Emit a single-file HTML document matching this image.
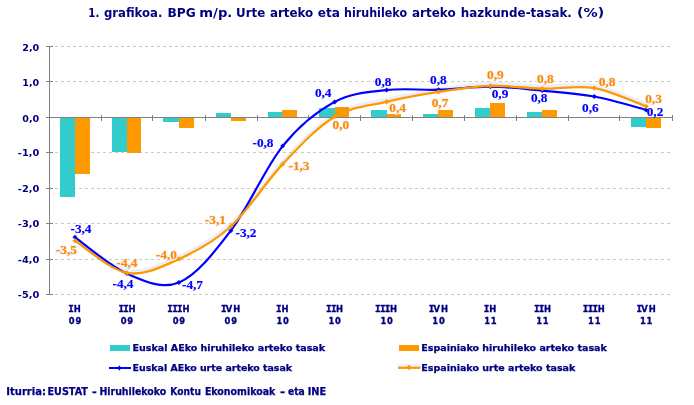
<!DOCTYPE html>
<html><head><meta charset="utf-8"><title>1. grafikoa</title>
<style>html,body{margin:0;padding:0;background:#fff}body{width:694px;height:405px;overflow:hidden}</style>
</head><body>
<svg width="694" height="405" viewBox="0 0 694 405" style="display:block">
<rect width="694" height="405" fill="#fff"/>
<line x1="55" x2="672" y1="46.5" y2="46.5" stroke="#C9C9BE" stroke-width="1" stroke-dasharray="3 3" shape-rendering="crispEdges"/>
<line x1="55" x2="672" y1="81.5" y2="81.5" stroke="#C9C9BE" stroke-width="1" stroke-dasharray="3 3" shape-rendering="crispEdges"/>
<line x1="55" x2="672" y1="152.5" y2="152.5" stroke="#C9C9BE" stroke-width="1" stroke-dasharray="3 3" shape-rendering="crispEdges"/>
<line x1="55" x2="672" y1="188.5" y2="188.5" stroke="#C9C9BE" stroke-width="1" stroke-dasharray="3 3" shape-rendering="crispEdges"/>
<line x1="55" x2="672" y1="223.5" y2="223.5" stroke="#C9C9BE" stroke-width="1" stroke-dasharray="3 3" shape-rendering="crispEdges"/>
<line x1="55" x2="672" y1="259.5" y2="259.5" stroke="#C9C9BE" stroke-width="1" stroke-dasharray="3 3" shape-rendering="crispEdges"/>
<line x1="55" x2="672" y1="294.5" y2="294.5" stroke="#C9C9BE" stroke-width="1" stroke-dasharray="3 3" shape-rendering="crispEdges"/>
<rect x="60" y="118" width="15" height="79" fill="#33CCCC" shape-rendering="crispEdges"/>
<rect x="75" y="118" width="15" height="56" fill="#FF9900" shape-rendering="crispEdges"/>
<rect x="112" y="118" width="15" height="34" fill="#33CCCC" shape-rendering="crispEdges"/>
<rect x="127" y="118" width="14" height="35" fill="#FF9900" shape-rendering="crispEdges"/>
<rect x="163" y="118" width="16" height="4" fill="#33CCCC" shape-rendering="crispEdges"/>
<rect x="179" y="118" width="15" height="10" fill="#FF9900" shape-rendering="crispEdges"/>
<rect x="216" y="113" width="15" height="4" fill="#33CCCC" shape-rendering="crispEdges"/>
<rect x="231" y="118" width="15" height="3" fill="#FF9900" shape-rendering="crispEdges"/>
<rect x="268" y="112" width="14" height="5" fill="#33CCCC" shape-rendering="crispEdges"/>
<rect x="282" y="110" width="15" height="7" fill="#FF9900" shape-rendering="crispEdges"/>
<rect x="319" y="108" width="16" height="9" fill="#33CCCC" shape-rendering="crispEdges"/>
<rect x="335" y="107" width="14" height="10" fill="#FF9900" shape-rendering="crispEdges"/>
<rect x="371" y="110" width="16" height="7" fill="#33CCCC" shape-rendering="crispEdges"/>
<rect x="387" y="114" width="14" height="3" fill="#FF9900" shape-rendering="crispEdges"/>
<rect x="423" y="114" width="15" height="3" fill="#33CCCC" shape-rendering="crispEdges"/>
<rect x="438" y="110" width="15" height="7" fill="#FF9900" shape-rendering="crispEdges"/>
<rect x="475" y="108" width="15" height="9" fill="#33CCCC" shape-rendering="crispEdges"/>
<rect x="490" y="103" width="15" height="14" fill="#FF9900" shape-rendering="crispEdges"/>
<rect x="527" y="112" width="15" height="5" fill="#33CCCC" shape-rendering="crispEdges"/>
<rect x="542" y="110" width="15" height="7" fill="#FF9900" shape-rendering="crispEdges"/>
<rect x="631" y="118" width="15" height="9" fill="#33CCCC" shape-rendering="crispEdges"/>
<rect x="646" y="118" width="15" height="10" fill="#FF9900" shape-rendering="crispEdges"/>
<rect x="70" y="121" width="1" height="1" fill="#8E8A8A" opacity="0.8"/>
<rect x="70" y="129" width="1" height="1" fill="#8E8A8A" opacity="0.8"/>
<rect x="70" y="137" width="1" height="1" fill="#8E8A8A" opacity="0.8"/>
<rect x="70" y="145" width="1" height="1" fill="#8E8A8A" opacity="0.8"/>
<rect x="70" y="153" width="1" height="1" fill="#8E8A8A" opacity="0.8"/>
<rect x="70" y="161" width="1" height="1" fill="#8E8A8A" opacity="0.8"/>
<rect x="70" y="169" width="1" height="1" fill="#8E8A8A" opacity="0.8"/>
<rect x="70" y="177" width="1" height="1" fill="#8E8A8A" opacity="0.8"/>
<rect x="122" y="124" width="1" height="1" fill="#8E8A8A" opacity="0.8"/>
<rect x="122" y="132" width="1" height="1" fill="#8E8A8A" opacity="0.8"/>
<g stroke="#808080" stroke-width="1" shape-rendering="crispEdges">
<line x1="49.5" x2="49.5" y1="46" y2="295"/>
<line x1="46" x2="53" y1="46.5" y2="46.5"/>
<line x1="46" x2="53" y1="81.5" y2="81.5"/>
<line x1="46" x2="53" y1="117.5" y2="117.5"/>
<line x1="46" x2="53" y1="152.5" y2="152.5"/>
<line x1="46" x2="53" y1="188.5" y2="188.5"/>
<line x1="46" x2="53" y1="223.5" y2="223.5"/>
<line x1="46" x2="53" y1="259.5" y2="259.5"/>
<line x1="46" x2="53" y1="294.5" y2="294.5"/>
<line x1="49" x2="673" y1="117.5" y2="117.5"/>
<line x1="49.5" x2="49.5" y1="115" y2="121"/>
<line x1="101.5" x2="101.5" y1="115" y2="121"/>
<line x1="152.5" x2="152.5" y1="115" y2="121"/>
<line x1="205.5" x2="205.5" y1="115" y2="121"/>
<line x1="257.5" x2="257.5" y1="115" y2="121"/>
<line x1="308.5" x2="308.5" y1="115" y2="121"/>
<line x1="360.5" x2="360.5" y1="115" y2="121"/>
<line x1="412.5" x2="412.5" y1="115" y2="121"/>
<line x1="464.5" x2="464.5" y1="115" y2="121"/>
<line x1="516.5" x2="516.5" y1="115" y2="121"/>
<line x1="568.5" x2="568.5" y1="115" y2="121"/>
<line x1="619.5" x2="619.5" y1="115" y2="121"/>
<line x1="672.5" x2="672.5" y1="115" y2="121"/>
</g>
<path d="M75.0,240.7 C83.7,246.0 109.6,269.8 126.9,272.9 C144.2,276.0 161.6,266.8 178.9,259.1 C196.2,251.3 213.5,242.3 230.8,226.5 C248.1,210.7 265.4,182.4 282.7,164.1 C300.0,145.8 317.3,127.0 334.6,116.7 C352.0,106.3 369.3,105.9 386.6,101.8 C403.9,97.6 421.2,94.5 438.5,91.9 C455.8,89.2 473.1,86.4 490.4,85.8 C507.8,85.3 525.1,88.3 542.4,88.7 C559.7,89.0 577.0,85.2 594.3,88.1 C611.6,91.1 637.6,103.3 646.2,106.4" fill="none" stroke="#ECEEFA" stroke-width="4" stroke-linejoin="round" transform="translate(0,-2)" style="mix-blend-mode:darken"/>
<path d="M75.0,237.3 C83.7,243.3 109.6,266.1 126.9,273.6 C144.2,281.1 161.6,289.6 178.9,282.5 C196.2,275.3 213.5,253.5 230.8,230.7 C248.1,208.0 265.4,167.5 282.7,146.1 C300.0,124.6 317.3,111.3 334.6,101.9 C352.0,92.6 369.3,92.1 386.6,90.1 C403.9,88.0 421.2,90.3 438.5,89.7 C455.8,89.2 473.1,86.6 490.4,86.7 C507.8,86.9 525.1,89.0 542.4,90.6 C559.7,92.2 577.0,93.2 594.3,96.5 C611.6,99.7 637.6,107.7 646.2,109.9" fill="none" stroke="#0000FF" stroke-width="2.2" stroke-linejoin="round"/>
<path d="M72.5,237.3 L75.0,234.8 L77.5,237.3 L75.0,239.8Z" fill="#0000FF"/>
<path d="M124.4,273.6 L126.9,271.1 L129.4,273.6 L126.9,276.1Z" fill="#0000FF"/>
<path d="M176.4,282.5 L178.9,280.0 L181.4,282.5 L178.9,285.0Z" fill="#0000FF"/>
<path d="M228.3,230.7 L230.8,228.2 L233.3,230.7 L230.8,233.2Z" fill="#0000FF"/>
<path d="M280.2,146.1 L282.7,143.6 L285.2,146.1 L282.7,148.6Z" fill="#0000FF"/>
<path d="M332.1,101.9 L334.6,99.4 L337.1,101.9 L334.6,104.4Z" fill="#0000FF"/>
<path d="M384.1,90.1 L386.6,87.6 L389.1,90.1 L386.6,92.6Z" fill="#0000FF"/>
<path d="M436.0,89.7 L438.5,87.2 L441.0,89.7 L438.5,92.2Z" fill="#0000FF"/>
<path d="M487.9,86.7 L490.4,84.2 L492.9,86.7 L490.4,89.2Z" fill="#0000FF"/>
<path d="M539.9,90.6 L542.4,88.1 L544.9,90.6 L542.4,93.1Z" fill="#0000FF"/>
<path d="M591.8,96.5 L594.3,94.0 L596.8,96.5 L594.3,99.0Z" fill="#0000FF"/>
<path d="M643.7,109.9 L646.2,107.4 L648.7,109.9 L646.2,112.4Z" fill="#0000FF"/>
<path d="M75.0,240.7 C83.7,246.0 109.6,269.8 126.9,272.9 C144.2,276.0 161.6,266.8 178.9,259.1 C196.2,251.3 213.5,242.3 230.8,226.5 C248.1,210.7 265.4,182.4 282.7,164.1 C300.0,145.8 317.3,127.0 334.6,116.7 C352.0,106.3 369.3,105.9 386.6,101.8 C403.9,97.6 421.2,94.5 438.5,91.9 C455.8,89.2 473.1,86.4 490.4,85.8 C507.8,85.3 525.1,88.3 542.4,88.7 C559.7,89.0 577.0,85.2 594.3,88.1 C611.6,91.1 637.6,103.3 646.2,106.4" fill="none" stroke="#FF9900" stroke-width="2.3" stroke-linejoin="round"/>
<path d="M72.4,240.7 L75.0,238.1 L77.6,240.7 L75.0,243.3Z" fill="#FF9900"/>
<path d="M124.3,272.9 L126.9,270.3 L129.5,272.9 L126.9,275.5Z" fill="#FF9900"/>
<path d="M176.3,259.1 L178.9,256.5 L181.5,259.1 L178.9,261.7Z" fill="#FF9900"/>
<path d="M228.2,226.5 L230.8,223.9 L233.4,226.5 L230.8,229.1Z" fill="#FF9900"/>
<path d="M280.1,164.1 L282.7,161.5 L285.3,164.1 L282.7,166.7Z" fill="#FF9900"/>
<path d="M332.0,116.7 L334.6,114.1 L337.2,116.7 L334.6,119.3Z" fill="#FF9900"/>
<path d="M384.0,101.8 L386.6,99.2 L389.2,101.8 L386.6,104.4Z" fill="#FF9900"/>
<path d="M435.9,91.9 L438.5,89.3 L441.1,91.9 L438.5,94.5Z" fill="#FF9900"/>
<path d="M487.8,85.8 L490.4,83.2 L493.0,85.8 L490.4,88.4Z" fill="#FF9900"/>
<path d="M539.8,88.7 L542.4,86.1 L545.0,88.7 L542.4,91.3Z" fill="#FF9900"/>
<path d="M591.7,88.1 L594.3,85.5 L596.9,88.1 L594.3,90.7Z" fill="#FF9900"/>
<path d="M643.6,106.4 L646.2,103.8 L648.8,106.4 L646.2,109.0Z" fill="#FF9900"/>
<g font-family='"Liberation Serif",serif' font-weight="bold" font-size="13.3" text-anchor="middle">
<text x="66.4" y="253.9" fill="none" stroke="#F4F4FC" stroke-opacity="0.9" stroke-width="2.4" stroke-linejoin="round">-3,5</text>
<text x="127" y="267.1" fill="none" stroke="#F4F4FC" stroke-opacity="0.9" stroke-width="2.4" stroke-linejoin="round">-4,4</text>
<text x="166.3" y="259" fill="none" stroke="#F4F4FC" stroke-opacity="0.9" stroke-width="2.4" stroke-linejoin="round">-4,0</text>
<text x="215.4" y="224.4" fill="none" stroke="#F4F4FC" stroke-opacity="0.9" stroke-width="2.4" stroke-linejoin="round">-3,1</text>
<text x="299" y="170.1" fill="none" stroke="#F4F4FC" stroke-opacity="0.9" stroke-width="2.4" stroke-linejoin="round">-1,3</text>
<text x="340.8" y="128.9" fill="none" stroke="#F4F4FC" stroke-opacity="0.9" stroke-width="2.4" stroke-linejoin="round">0,0</text>
<text x="397.6" y="111.5" fill="none" stroke="#F4F4FC" stroke-opacity="0.9" stroke-width="2.4" stroke-linejoin="round">0,4</text>
<text x="440" y="106.6" fill="none" stroke="#F4F4FC" stroke-opacity="0.9" stroke-width="2.4" stroke-linejoin="round">0,7</text>
<text x="495.3" y="79.4" fill="none" stroke="#F4F4FC" stroke-opacity="0.9" stroke-width="2.4" stroke-linejoin="round">0,9</text>
<text x="545.3" y="83.3" fill="none" stroke="#F4F4FC" stroke-opacity="0.9" stroke-width="2.4" stroke-linejoin="round">0,8</text>
<text x="607" y="86.4" fill="none" stroke="#F4F4FC" stroke-opacity="0.9" stroke-width="2.4" stroke-linejoin="round">0,8</text>
<text x="653.5" y="103" fill="none" stroke="#F4F4FC" stroke-opacity="0.9" stroke-width="2.4" stroke-linejoin="round">0,3</text>
<text x="81" y="232.8" fill="#0000FF" stroke="#0000FF" stroke-width="0.15">-3,4</text>
<text x="123" y="287.5" fill="#0000FF" stroke="#0000FF" stroke-width="0.15">-4,4</text>
<text x="192.5" y="288.5" fill="#0000FF" stroke="#0000FF" stroke-width="0.15">-4,7</text>
<text x="246" y="237" fill="#0000FF" stroke="#0000FF" stroke-width="0.15">-3,2</text>
<text x="263" y="147.4" fill="#0000FF" stroke="#0000FF" stroke-width="0.15">-0,8</text>
<text x="323.2" y="96.8" fill="#0000FF" stroke="#0000FF" stroke-width="0.15">0,4</text>
<text x="383.1" y="86" fill="#0000FF" stroke="#0000FF" stroke-width="0.15">0,8</text>
<text x="438.3" y="83.6" fill="#0000FF" stroke="#0000FF" stroke-width="0.15">0,8</text>
<text x="500" y="97.9" fill="#0000FF" stroke="#0000FF" stroke-width="0.15">0,9</text>
<text x="539.2" y="101.9" fill="#0000FF" stroke="#0000FF" stroke-width="0.15">0,8</text>
<text x="590.3" y="111.8" fill="#0000FF" stroke="#0000FF" stroke-width="0.15">0,6</text>
<text x="655" y="116.2" fill="#0000FF" stroke="#0000FF" stroke-width="0.15">0,2</text>
<text x="66.4" y="253.9" fill="#FF8A00" stroke="#FF8A00" stroke-width="0.15">-3,5</text>
<text x="127" y="267.1" fill="#FF8A00" stroke="#FF8A00" stroke-width="0.15">-4,4</text>
<text x="166.3" y="259" fill="#FF8A00" stroke="#FF8A00" stroke-width="0.15">-4,0</text>
<text x="215.4" y="224.4" fill="#FF8A00" stroke="#FF8A00" stroke-width="0.15">-3,1</text>
<text x="299" y="170.1" fill="#FF8A00" stroke="#FF8A00" stroke-width="0.15">-1,3</text>
<text x="340.8" y="128.9" fill="#FF8A00" stroke="#FF8A00" stroke-width="0.15">0,0</text>
<text x="397.6" y="111.5" fill="#FF8A00" stroke="#FF8A00" stroke-width="0.15">0,4</text>
<text x="440" y="106.6" fill="#FF8A00" stroke="#FF8A00" stroke-width="0.15">0,7</text>
<text x="495.3" y="79.4" fill="#FF8A00" stroke="#FF8A00" stroke-width="0.15">0,9</text>
<text x="545.3" y="83.3" fill="#FF8A00" stroke="#FF8A00" stroke-width="0.15">0,8</text>
<text x="607" y="86.4" fill="#FF8A00" stroke="#FF8A00" stroke-width="0.15">0,8</text>
<text x="653.5" y="103" fill="#FF8A00" stroke="#FF8A00" stroke-width="0.15">0,3</text>
</g>
<g font-family='"DejaVu Sans Condensed","DejaVu Sans","Liberation Sans",sans-serif' font-weight="bold" fill="#000080">
<text y="16.7" font-size="12" font-family='"DejaVu Sans","Liberation Sans",sans-serif'>
<tspan x="88.3" textLength="11.1" lengthAdjust="spacingAndGlyphs">1.</tspan>
<tspan x="103.9" textLength="58.5" lengthAdjust="spacingAndGlyphs">grafikoa.</tspan>
<tspan x="167.4" textLength="28.3" lengthAdjust="spacingAndGlyphs">BPG</tspan>
<tspan x="199.3" textLength="33.1" lengthAdjust="spacingAndGlyphs">m/p.</tspan>
<tspan x="236.1" textLength="29.2" lengthAdjust="spacingAndGlyphs">Urte</tspan>
<tspan x="269.9" textLength="43.4" lengthAdjust="spacingAndGlyphs">arteko</tspan>
<tspan x="317.8" textLength="22.2" lengthAdjust="spacingAndGlyphs">eta</tspan>
<tspan x="344.0" textLength="63.1" lengthAdjust="spacingAndGlyphs">hiruhileko</tspan>
<tspan x="412.0" textLength="43.6" lengthAdjust="spacingAndGlyphs">arteko</tspan>
<tspan x="460.8" textLength="111.1" lengthAdjust="spacingAndGlyphs">hazkunde-tasak.</tspan>
<tspan x="577.1" textLength="27.1" lengthAdjust="spacingAndGlyphs">(%)</tspan>
</text>
<text x="22.299999999999997" y="50.8" font-size="8.9" font-family='"DejaVu Sans","Liberation Sans",sans-serif' textLength="17" lengthAdjust="spacingAndGlyphs">2,0</text>
<text x="22.299999999999997" y="85.6" font-size="8.9" font-family='"DejaVu Sans","Liberation Sans",sans-serif' textLength="17" lengthAdjust="spacingAndGlyphs">1,0</text>
<text x="22.299999999999997" y="121.7" font-size="8.9" font-family='"DejaVu Sans","Liberation Sans",sans-serif' textLength="17" lengthAdjust="spacingAndGlyphs">0,0</text>
<text x="17.799999999999997" y="156.4" font-size="8.9" font-family='"DejaVu Sans","Liberation Sans",sans-serif' textLength="21.5" lengthAdjust="spacingAndGlyphs">-1,0</text>
<text x="17.799999999999997" y="191.7" font-size="8.9" font-family='"DejaVu Sans","Liberation Sans",sans-serif' textLength="21.5" lengthAdjust="spacingAndGlyphs">-2,0</text>
<text x="17.799999999999997" y="227" font-size="8.9" font-family='"DejaVu Sans","Liberation Sans",sans-serif' textLength="21.5" lengthAdjust="spacingAndGlyphs">-3,0</text>
<text x="17.799999999999997" y="263.1" font-size="8.9" font-family='"DejaVu Sans","Liberation Sans",sans-serif' textLength="21.5" lengthAdjust="spacingAndGlyphs">-4,0</text>
<text x="17.799999999999997" y="298.0" font-size="8.9" font-family='"DejaVu Sans","Liberation Sans",sans-serif' textLength="21.5" lengthAdjust="spacingAndGlyphs">-5,0</text>
<g font-size="9.3" text-anchor="middle" stroke="#000080" stroke-width="0.3">
<text x="71.1 77.3" y="312"><tspan font-family='"DejaVu Sans Mono","Liberation Mono",monospace' stroke-width="0.4">I</tspan>H</text>
<text x="71.7 78.3" y="324">09</text>
<text x="121.2 126.1 131.9" y="312"><tspan font-family='"DejaVu Sans Mono","Liberation Mono",monospace' stroke-width="0.4">II</tspan>H</text>
<text x="123.6 130.2" y="324">09</text>
<text x="170.1 175.1 179.8 185.9" y="312"><tspan font-family='"DejaVu Sans Mono","Liberation Mono",monospace' stroke-width="0.4">III</tspan>H</text>
<text x="175.6 182.2" y="324">09</text>
<text x="223.8 229.1 236.8" y="312"><tspan font-family='"DejaVu Sans Mono","Liberation Mono",monospace' stroke-width="0.4">I</tspan>VH</text>
<text x="227.5 234.1" y="324">09</text>
<text x="278.8 285.0" y="312"><tspan font-family='"DejaVu Sans Mono","Liberation Mono",monospace' stroke-width="0.4">I</tspan>H</text>
<text x="279.4 286.0" y="324">10</text>
<text x="328.9 333.8 339.6" y="312"><tspan font-family='"DejaVu Sans Mono","Liberation Mono",monospace' stroke-width="0.4">II</tspan>H</text>
<text x="331.3 337.9" y="324">10</text>
<text x="377.8 382.8 387.5 393.6" y="312"><tspan font-family='"DejaVu Sans Mono","Liberation Mono",monospace' stroke-width="0.4">III</tspan>H</text>
<text x="383.3 389.9" y="324">10</text>
<text x="431.5 436.8 444.5" y="312"><tspan font-family='"DejaVu Sans Mono","Liberation Mono",monospace' stroke-width="0.4">I</tspan>VH</text>
<text x="435.2 441.8" y="324">10</text>
<text x="486.5 492.7" y="312"><tspan font-family='"DejaVu Sans Mono","Liberation Mono",monospace' stroke-width="0.4">I</tspan>H</text>
<text x="487.1 493.7" y="324">11</text>
<text x="536.7 541.6 547.4" y="312"><tspan font-family='"DejaVu Sans Mono","Liberation Mono",monospace' stroke-width="0.4">II</tspan>H</text>
<text x="539.1 545.7" y="324">11</text>
<text x="585.5 590.5 595.2 601.3" y="312"><tspan font-family='"DejaVu Sans Mono","Liberation Mono",monospace' stroke-width="0.4">III</tspan>H</text>
<text x="591.0 597.6" y="324">11</text>
<text x="639.2 644.5 652.2" y="312"><tspan font-family='"DejaVu Sans Mono","Liberation Mono",monospace' stroke-width="0.4">I</tspan>VH</text>
<text x="642.9 649.5" y="324">11</text>
</g>
<text x="132.6" y="350.8" font-size="9.2" font-family='"DejaVu Sans","Liberation Sans",sans-serif' textLength="192.5" lengthAdjust="spacingAndGlyphs" stroke="#000080" stroke-width="0.25">Euskal AEko hiruhileko arteko tasak</text>
<text x="132.6" y="370.6" font-size="9.2" font-family='"DejaVu Sans","Liberation Sans",sans-serif' textLength="159.5" lengthAdjust="spacingAndGlyphs" stroke="#000080" stroke-width="0.25">Euskal AEko urte arteko tasak</text>
<text x="421.3" y="350.8" font-size="9.2" font-family='"DejaVu Sans","Liberation Sans",sans-serif' textLength="185.5" lengthAdjust="spacingAndGlyphs" stroke="#000080" stroke-width="0.25">Espainiako hiruhileko arteko tasak</text>
<text x="421.3" y="370.6" font-size="9.2" font-family='"DejaVu Sans","Liberation Sans",sans-serif' textLength="154" lengthAdjust="spacingAndGlyphs" stroke="#000080" stroke-width="0.25">Espainiako urte arteko tasak</text>
<text y="394.7" font-size="9.6" font-family='"DejaVu Sans","Liberation Sans",sans-serif' stroke="#000080" stroke-width="0.25">
<tspan x="6.3" textLength="39.6" lengthAdjust="spacingAndGlyphs">Iturria:</tspan>
<tspan x="47.5" textLength="40.4" lengthAdjust="spacingAndGlyphs">EUSTAT</tspan>
<tspan x="91.9" textLength="4.7" lengthAdjust="spacingAndGlyphs">-</tspan>
<tspan x="99.4" textLength="66.9" lengthAdjust="spacingAndGlyphs">Hiruhilekoko</tspan>
<tspan x="170.3" textLength="30.6" lengthAdjust="spacingAndGlyphs">Kontu</tspan>
<tspan x="204.9" textLength="70.4" lengthAdjust="spacingAndGlyphs">Ekonomikoak</tspan>
<tspan x="280.0" textLength="5.2" lengthAdjust="spacingAndGlyphs">-</tspan>
<tspan x="288.0" textLength="16.8" lengthAdjust="spacingAndGlyphs">eta</tspan>
<tspan x="307.7" textLength="18.5" lengthAdjust="spacingAndGlyphs">INE</tspan>
</text>
</g>
<rect x="110" y="345" width="20" height="6" fill="#33CCCC"/>
<rect x="399" y="345" width="20" height="6" fill="#FF9900"/>
<line x1="109" x2="131" y1="368" y2="368" stroke="#0000FF" stroke-width="2"/>
<path d="M117,368 l2.3,-2.6 l2.3,2.6 l-2.3,2.6Z" fill="#0000FF"/>
<line x1="397" x2="421" y1="365.5" y2="365.5" stroke="#EEF0FF" stroke-width="3"/>
<line x1="398" x2="420.5" y1="367.8" y2="367.8" stroke="#FF9900" stroke-width="2.2"/>
<path d="M406.4,367.6 l2.6,-2.8 l2.6,2.8 l-2.6,2.6Z" fill="#FF9900"/>
</svg>
</body></html>
